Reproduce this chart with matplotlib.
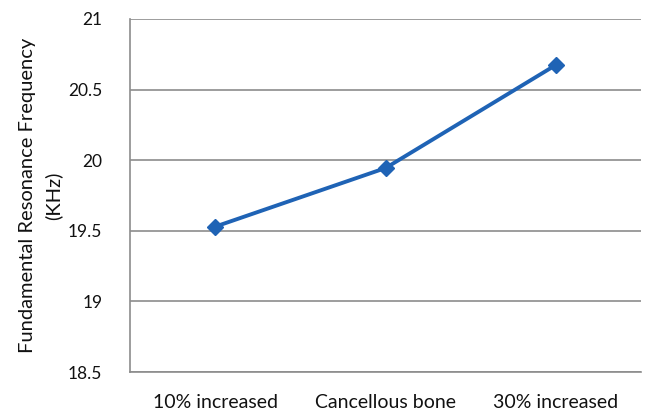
import matplotlib.pyplot as plt

categories = ["10% increased", "Cancellous bone", "30% increased"]
frequency = [19.53, 19.945, 20.675]
yticks = [18.5, 19, 19.5, 20, 20.5, 21]
ytick_labels = ["18.5", "19", "19.5", "20", "20.5", "21"]

plt.rcParams['font.family'] = ['Lato', 'DejaVu Sans']

fig = plt.figure(figsize=(6.47, 4.13), dpi=100)
ax = fig.add_axes([0.201, 0.099, 0.79, 0.855])

x = list(range(len(categories)))
ax.plot(x, frequency, color='#1f63b5', linewidth=2.8, marker='D', markersize=8)

ax.set_xlim(-0.5, 2.5)
ax.set_ylim(18.5, 21)
ax.set_yticks(yticks)
ax.set_yticklabels(ytick_labels)
ax.set_xticks(x)
ax.set_xticklabels(categories)
ax.yaxis.grid(True, color='#8c8c8c', linewidth=1.2)
ax.set_axisbelow(True)

for s in ['top', 'right']:
    ax.spines[s].set_visible(False)
for s in ['left', 'bottom']:
    ax.spines[s].set_color('#8c8c8c')
    ax.spines[s].set_linewidth(1.2)

ax.tick_params(axis='both', length=0, labelsize=12.5, colors='#111111')
ax.tick_params(axis='y', pad=20)
ax.tick_params(axis='x', pad=16)
for lab in ax.get_xticklabels():
    lab.set_fontsize(14)

ax.set_ylabel("Fundamental Resonance Frequency\n(KHz)", fontsize=14.5, color='#111111',
              linespacing=1.55, labelpad=4)

fig.savefig('out.png', dpi=100)
